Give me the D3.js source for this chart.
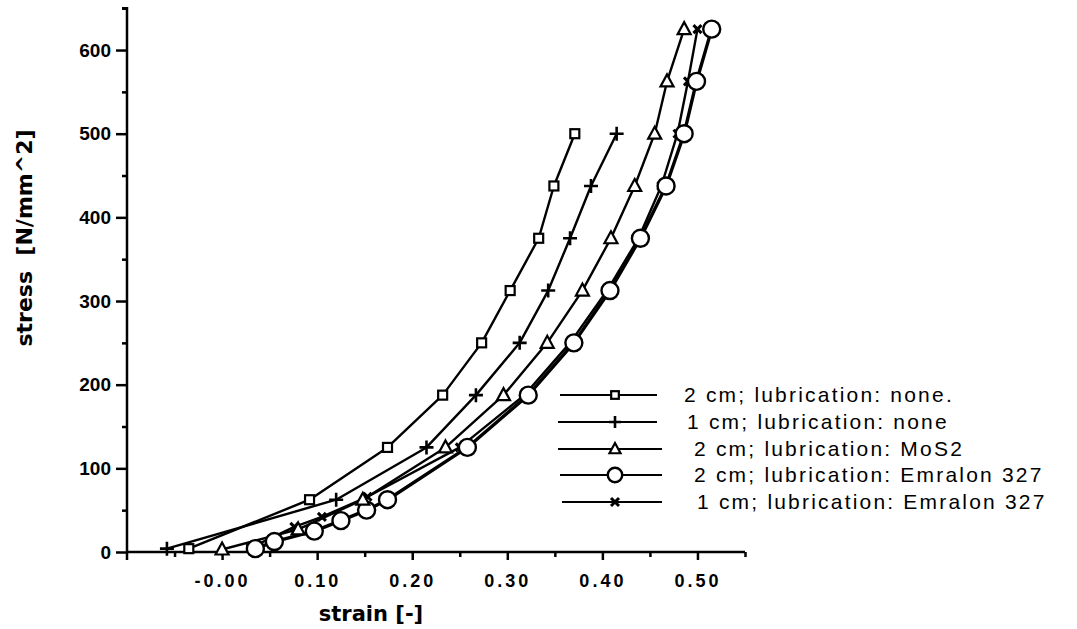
<!DOCTYPE html>
<html><head><meta charset="utf-8">
<script src="https://cdn.jsdelivr.net/npm/d3@7/dist/d3.min.js"></script>
<style>body{margin:0;background:#fff}svg{display:block}</style>
</head><body>
<svg id="c" width="1077" height="629"></svg>
<script>
// ---- data ----
const seriesNames = ["2 cm; lubrication: none.", "1 cm; lubrication: none", "2 cm; lubrication: MoS2", "2 cm; lubrication: Emralon 327", "1 cm; lubrication: Emralon 327"];
const strainA = [-0.035, 0.092, 0.174, 0.232, 0.273, 0.303, 0.333, 0.349, 0.371];
const stressA = [4, 62.5, 125, 187.5, 250, 312.5, 375, 437.5, 500];
const strainB = [-0.058, 0.12, 0.215, 0.267, 0.313, 0.343, 0.366, 0.388, 0.415];
const stressB = [4, 62.5, 125, 187.5, 250, 312.5, 375, 437.5, 500];
const strainC = [0.0, 0.08, 0.148, 0.235, 0.296, 0.342, 0.379, 0.409, 0.434, 0.455, 0.468, 0.486];
const stressC = [3, 27, 62.5, 125, 187.5, 250, 312.5, 375, 437.5, 500, 562.5, 625];
const strainD = [0.035, 0.055, 0.097, 0.125, 0.152, 0.174, 0.258, 0.322, 0.37, 0.408, 0.44, 0.467, 0.486, 0.499, 0.515];
const stressD = [4, 12.5, 25, 37.5, 50, 62.5, 125, 187.5, 250, 312.5, 375, 437.5, 500, 562.5, 625];
const strainE = [0.03, 0.076, 0.105, 0.153, 0.25, 0.318, 0.366, 0.405, 0.438, 0.462, 0.479, 0.49, 0.50];
const stressE = [5, 30, 42, 66, 125, 187.5, 250, 312.5, 375, 437.5, 500, 562.5, 625];
const yTicks = [0, 100, 200, 300, 400, 500, 600];
const xTicks = [0, 0.1, 0.2, 0.3, 0.4, 0.5];
const xTickLabels = ["-0.00", "0.10", "0.20", "0.30", "0.40", "0.50"];

const svg = d3.select("#c");
svg.append("rect").attr("width",1077).attr("height",629).attr("fill","#fff");
const x = d3.scaleLinear().domain([-0.10, 0.55]).range([127, 745]);
const y = d3.scaleLinear().domain([0, 650]).range([552, 8.2]);

// axes
const yAxis = d3.axisLeft(y).tickValues(yTicks).tickSize(11).tickFormat(d3.format("d")).tickPadding(5);
const yMinor = d3.axisLeft(y).tickValues(d3.range(50, 651, 100)).tickSize(5).tickFormat("");
const gy = svg.append("g").attr("transform","translate(127,0)").call(yAxis);
svg.append("g").attr("transform","translate(127,0)").call(yMinor).select(".domain").remove();
gy.select(".domain").attr("d","M-5,"+y(650)+"H0V"+(y(0)+8));
gy.selectAll("text").attr("font-family","Liberation Sans, Arial, sans-serif").attr("font-weight","bold").attr("font-size",19);

const xAxis = d3.axisBottom(x).tickValues(xTicks).tickSize(8).tickFormat((d,i)=>xTickLabels[i]).tickPadding(14);
const xMinor = d3.axisBottom(x).tickValues([-0.05,0.05,0.15,0.25,0.35,0.45,0.55]).tickSize(5).tickFormat("");
const gx = svg.append("g").attr("transform","translate(0,552)").call(xAxis);
svg.append("g").attr("transform","translate(0,552)").call(xMinor).select(".domain").remove();
gx.select(".domain").attr("d","M127,0H745");
gx.selectAll("text").attr("font-family","Liberation Sans, Arial, sans-serif").attr("font-size",18).attr("font-weight","600").attr("letter-spacing","3px");
svg.selectAll(".domain").attr("stroke","#000").attr("stroke-width",2.5);
svg.selectAll(".tick line").attr("stroke","#000").attr("stroke-width",2.5);

// titles
svg.append("text").attr("x",371).attr("y",621).attr("text-anchor","middle")
  .attr("font-family","DejaVu Sans, sans-serif").attr("font-weight","bold").attr("font-size",21).text("strain [-]");
svg.append("text").attr("transform","translate(32,238) rotate(-90)").attr("text-anchor","middle")
  .attr("font-family","DejaVu Sans, sans-serif").attr("font-weight","bold").attr("font-size",22)
  .attr("xml:space","preserve").text("stress  [N/mm^2]");

// marker drawing
function marker(g, type, cx, cy, big) {
  const s = big ? 1 : 0.85;
  if (type === 0) g.append("rect").attr("x",cx-4.5*s).attr("y",cy-4.5*s).attr("width",9*s).attr("height",9*s).attr("fill","#fff").attr("stroke","#000").attr("stroke-width",2.2);
  else if (type === 1) g.append("path").attr("d",`M${cx-7*s},${cy}H${cx+7*s}M${cx},${cy-7*s}V${cy+7*s}`).attr("stroke","#000").attr("stroke-width",2.6);
  else if (type === 2) g.append("path").attr("d",`M${cx},${cy-7*s}L${cx+6.5*s},${cy+5*s}L${cx-6.5*s},${cy+5*s}Z`).attr("fill","#fff").attr("stroke","#000").attr("stroke-width",2.2);
  else if (type === 3) g.append("circle").attr("cx",cx).attr("cy",cy).attr("r",8.5*s).attr("fill","#fff").attr("stroke","#000").attr("stroke-width",2.4);
  else g.append("path").attr("d",`M${cx-4},${cy-4}L${cx+4},${cy+4}M${cx+4},${cy-4}L${cx-4},${cy+4}`).attr("stroke","#000").attr("stroke-width",3);
}

const series = [[strainA,stressA],[strainB,stressB],[strainC,stressC],[strainD,stressD],[strainE,stressE]];
const widths = [2.4, 2.4, 2.4, 3.4, 2.4];
const line = d3.line().x(d=>x(d[0])).y(d=>y(d[1]));
const drawOrder = [4,3,2,1,0];
drawOrder.forEach(i=>{
  const pts = series[i][0].map((v,k)=>[v, series[i][1][k]]);
  svg.append("path").datum(pts).attr("d",line).attr("fill","none").attr("stroke","#000").attr("stroke-width",widths[i]).attr("stroke-linejoin","round");
});
drawOrder.forEach(i=>{
  const g = svg.append("g");
  series[i][0].forEach((v,k)=>marker(g, i, x(v), y(series[i][1][k]), true));
});

// legend
const legY = [395, 422, 449, 475, 502];
const legX0 = [560, 558, 558, 560, 562], legX1 = [657, 657, 662, 662, 662];
const textX = [684, 687, 694, 694, 697];
seriesNames.forEach((n,i)=>{
  svg.append("line").attr("x1",legX0[i]).attr("x2",legX1[i]).attr("y1",legY[i]).attr("y2",legY[i]).attr("stroke","#000").attr("stroke-width",2.2);
  const g = svg.append("g");
  marker(g, i, 615, legY[i], false);
  svg.append("text").attr("x",textX[i]).attr("y",legY[i]+7).attr("font-family","Liberation Sans, Arial, sans-serif")
    .attr("font-size",21).attr("letter-spacing","2.2px").text(n);
});
</script>
</body></html>
